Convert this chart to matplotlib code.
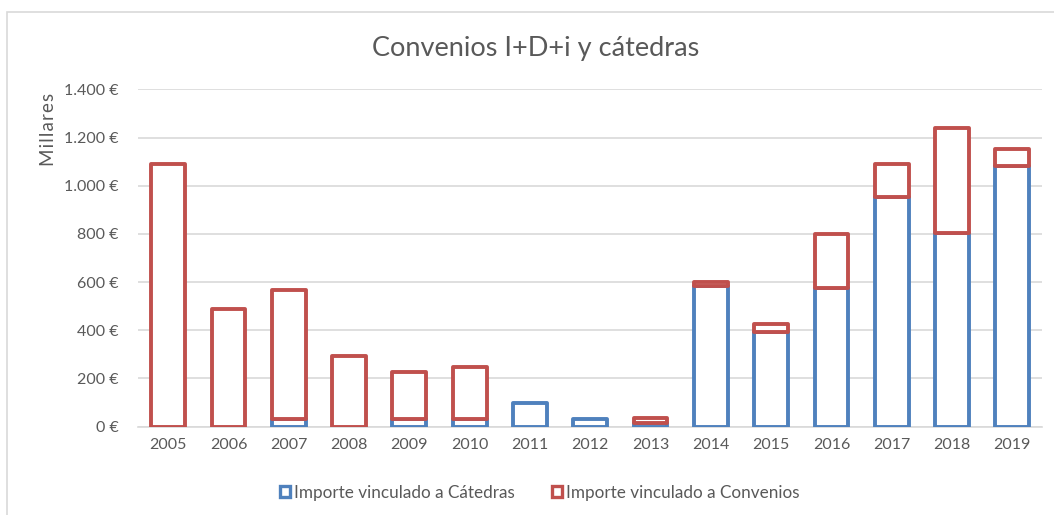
import numpy as np
import matplotlib.pyplot as plt
from matplotlib.patches import Patch, Rectangle
from matplotlib.ticker import FuncFormatter

# ==== Datos (miles de euros)
years = ["2005", "2006", "2007", "2008", "2009", "2010", "2011", "2012",
         "2013", "2014", "2015", "2016", "2017", "2018", "2019"]
catedras = [0, 0, 30, 0, 30, 30, 98, 32, 17, 585, 392, 575, 952, 803, 1082]
convenios = [1090, 488, 537, 292, 197, 218, 0, 0, 20, 15, 33, 225, 138, 436, 70]

BLUE = "#4F81BD"
RED = "#C0504D"
GRID = "#D9D9D9"
TXT = "#595959"

plt.rcParams["font.family"] = ["Lato", "DejaVu Sans"]

fig = plt.figure(figsize=(10.54, 5.15), dpi=100)
ax = fig.add_axes([0.131, 0.1715, 0.858, 0.655])

x = np.arange(len(years))
W = 0.56
LW = 2.8

b1 = ax.bar(x, catedras, W, facecolor="white", edgecolor=BLUE, linewidth=LW,
            joinstyle="round", zorder=3)
b2 = ax.bar(x, convenios, W, bottom=catedras, facecolor="white", edgecolor=RED,
            linewidth=LW, joinstyle="round", zorder=4)
# Ocultar segmentos vacíos
for bars, vals in ((b1, catedras), (b2, convenios)):
    for b, v in zip(bars, vals):
        if v == 0:
            b.set_visible(False)

ax.set_xlim(-0.5, 14.5)
ax.set_ylim(0, 1400)
ax.set_yticks(range(0, 1401, 200))
ax.yaxis.set_major_formatter(FuncFormatter(lambda v, p: f"{int(v):,} €".replace(",", ".")))
ax.set_xticks(x)
ax.set_xticklabels(years)
ax.tick_params(length=0, labelsize=11.5, colors=TXT, pad=8)
ax.tick_params(axis="y", pad=14)

ax.grid(axis="y", color=GRID, linewidth=1.2, zorder=0)
ax.set_axisbelow(True)
for s in ["top", "right", "left"]:
    ax.spines[s].set_visible(False)
ax.spines["bottom"].set_color(GRID)
ax.spines["bottom"].set_linewidth(1.2)

fig.text(0.508, 0.905, "Convenios I+D+i y cátedras", ha="center", va="center",
         fontsize=19.5, color=TXT)
fig.text(0.046, 0.748, "M i l l a r e s".replace(" ", "\u200a"), rotation=90,
         ha="center", va="center", fontsize=13.5, color=TXT)

handles = [Patch(facecolor="white", edgecolor=BLUE, linewidth=2.4),
           Patch(facecolor="white", edgecolor=RED, linewidth=2.4)]
leg = fig.legend(handles, ["Importe vinculado a Cátedras", "Importe vinculado a Convenios"],
                 loc="center", bbox_to_anchor=(0.512, 0.043), ncol=2, frameon=False,
                 fontsize=12.3, handlelength=0.6, handleheight=0.6, handletextpad=0.2,
                 columnspacing=2.2)
for t in leg.get_texts():
    t.set_color(TXT)

# borde del área del gráfico
fig.patches.append(Rectangle((0.0066, -0.01), 1.0, 0.987, transform=fig.transFigure,
                             fill=False, edgecolor=GRID, linewidth=1.2))

fig.savefig("out.png", dpi=100)
